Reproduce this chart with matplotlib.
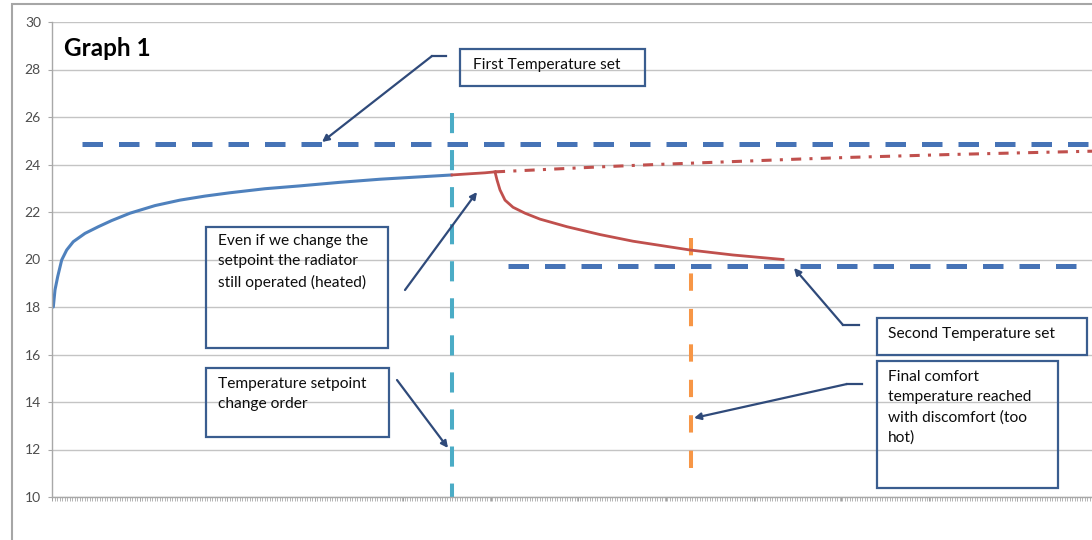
import numpy as np
import matplotlib
matplotlib.use('Agg')
import matplotlib.pyplot as plt
from matplotlib.patches import Rectangle

plt.rcParams['font.family'] = ['Lato', 'DejaVu Sans']

W, H = 1092, 540

# time axis is in arbitrary sample units (no labels on the original)
heat_t = [1.3, 3, 5.7, 9.7, 14.7, 21.3, 33, 46.3, 59.7, 78, 103, 128, 153, 178, 213, 248, 288,
          328, 368, 400]
heat_temp = [18.0, 18.72, 19.28, 19.98, 20.4, 20.75, 21.1, 21.38, 21.64, 21.95, 22.27, 22.5, 22.67,
             22.81, 22.98, 23.1, 23.25, 23.38, 23.48, 23.56]

overrun_t = [400, 418, 433, 443]
overrun_temp = [23.56, 23.61, 23.65, 23.69]

cool_t = [443, 445, 448, 453, 461, 473, 488, 515, 548, 581, 638, 681, 731]
cool_temp = [23.69, 23.35, 22.93, 22.5, 22.2, 21.95, 21.7, 21.38, 21.05, 20.77, 20.4, 20.19, 20.0]

still_t = [443, 498, 548, 598, 648, 698, 748, 798, 848, 898, 948, 998, 1040]
still_temp = [23.69, 23.8, 23.9, 23.99, 24.07, 24.15, 24.23, 24.3, 24.36, 24.42, 24.47, 24.52, 24.56]

first_set = 24.85
first_set_t = [30, 1040]
second_set = 19.73
second_set_t = [456, 1040]

change_order_t = 400
change_order_range = [10, 26.17]
comfort_t = 639
comfort_range = [10.75, 20.9]

y_ticks = [10, 12, 14, 16, 18, 20, 22, 24, 26, 28, 30]

blue = '#4F81BD'
red = '#C0504D'
dash_blue = '#4673B6'
cyan = '#4BACC6'
orange = '#F79646'
box_c = '#3A5D8F'
arrow_c = '#2F4A7A'


def fp(x, y):
    return (x / W, 1 - y / H)


fig = plt.figure(figsize=(W / 100, H / 100), dpi=100)
ax = fig.add_axes([52 / W, 43 / H, 1040 / W, 475 / H])
ax.set_xlim(0, 1040)
ax.set_ylim(10, 30)

ax.set_yticks(y_ticks)
ax.yaxis.grid(True, color='#C4C4C4', lw=1)
ax.set_axisbelow(True)
ax.set_xticks(np.arange(0, 1040, 87.7))
ax.set_xticks(np.arange(0, 1040, 2.5), minor=True)
ax.tick_params(axis='x', which='both', labelbottom=False, length=3, width=0.6, color='#A8A8A8')
ax.tick_params(axis='x', which='major', color='#909090')
ax.tick_params(axis='y', length=3, width=0.8, color='#A8A8A8', labelsize=10, labelcolor='#4D4D4D', pad=5)
for s in ['top', 'right']:
    ax.spines[s].set_visible(False)
for s in ['left', 'bottom']:
    ax.spines[s].set_color('#A8A8A8')
    ax.spines[s].set_linewidth(1)

# setpoints
ax.plot(first_set_t, [first_set, first_set], color=dash_blue, lw=3.6,
        linestyle=(0, (4.1, 3.2)), dash_capstyle='butt')
ax.plot(second_set_t, [second_set, second_set], color=dash_blue, lw=3.6,
        linestyle=(0, (4.1, 3.2)), dash_capstyle='butt')

# event markers
ax.plot([change_order_t, change_order_t], change_order_range[::-1], color=cyan, lw=2.9,
        linestyle=(0, (5, 4.2)), dash_capstyle='butt')
ax.plot([comfort_t, comfort_t], comfort_range[::-1], color=orange, lw=2.9,
        linestyle=(0, (4.3, 4.5)), dash_capstyle='butt')

# temperatures
ax.plot(heat_t, heat_temp, color=blue, lw=2.2, solid_capstyle='round', solid_joinstyle='round')
ax.plot(overrun_t, overrun_temp, color=red, lw=2)
ax.plot(cool_t, cool_temp, color=red, lw=2, solid_joinstyle='round')
ax.plot(still_t, still_temp, color=red, lw=2.2, linestyle=(0, (3.3, 2.7, 1, 2.7)))

# outer frame of the chart area
fig.add_artist(Rectangle(fp(12, 560), 1.2, 556 / H, transform=fig.transFigure,
                         fill=False, ec='#A6A6A6', lw=1.5))

fig.text(*fp(64, 56), 'Graph 1', fontsize=17.5, fontweight='bold', color='black', va='baseline')

boxes = [
    (460, 49, 645, 86, 'First Temperature set', 473, 58),
    (206, 227, 388, 348, 'Even if we change the\nsetpoint the radiator\nstill operated (heated)', 218, 234),
    (206, 368, 389, 437, 'Temperature setpoint\nchange order', 218, 377),
    (877, 318, 1087, 355, 'Second Temperature set', 888, 327),
    (877, 361, 1058, 488, 'Final comfort\ntemperature reached\nwith discomfort (too\nhot)', 888, 370),
]
for x0, y0, x1, y1, txt, tx, ty in boxes:
    fig.add_artist(Rectangle(fp(x0, y1), (x1 - x0) / W, (y1 - y0) / H, transform=fig.transFigure,
                             fill=False, ec=box_c, lw=1.6))
    fig.text(*fp(tx, ty), txt, fontsize=11.2, color='#0D0D0D', va='top', ha='left', linespacing=1.55)

# callouts: (elbow start, elbow, tip)
callouts = [
    ((446, 56), (432, 56), (322, 142)),
    ((859, 325), (843, 325), (794, 268)),
    ((862, 384), (847, 384), (694, 418)),
]
for a, b, tip in callouts:
    fig.add_artist(plt.Line2D([a[0] / W, b[0] / W], [1 - a[1] / H, 1 - b[1] / H],
                              transform=fig.transFigure, color=arrow_c, lw=1.6))
    ax.annotate('', xy=fp(*tip), xytext=fp(*b), xycoords='figure fraction',
                textcoords='figure fraction',
                arrowprops=dict(arrowstyle='-|>', color=arrow_c, lw=1.6, mutation_scale=10,
                                shrinkA=0, shrinkB=0))

for a, tip in [((405, 290), (477, 192)), ((397, 380), (448, 448))]:
    ax.annotate('', xy=fp(*tip), xytext=fp(*a), xycoords='figure fraction',
                textcoords='figure fraction',
                arrowprops=dict(arrowstyle='-|>', color=arrow_c, lw=1.6, mutation_scale=10,
                                shrinkA=0, shrinkB=0))

fig.savefig('out.png', dpi=100)
